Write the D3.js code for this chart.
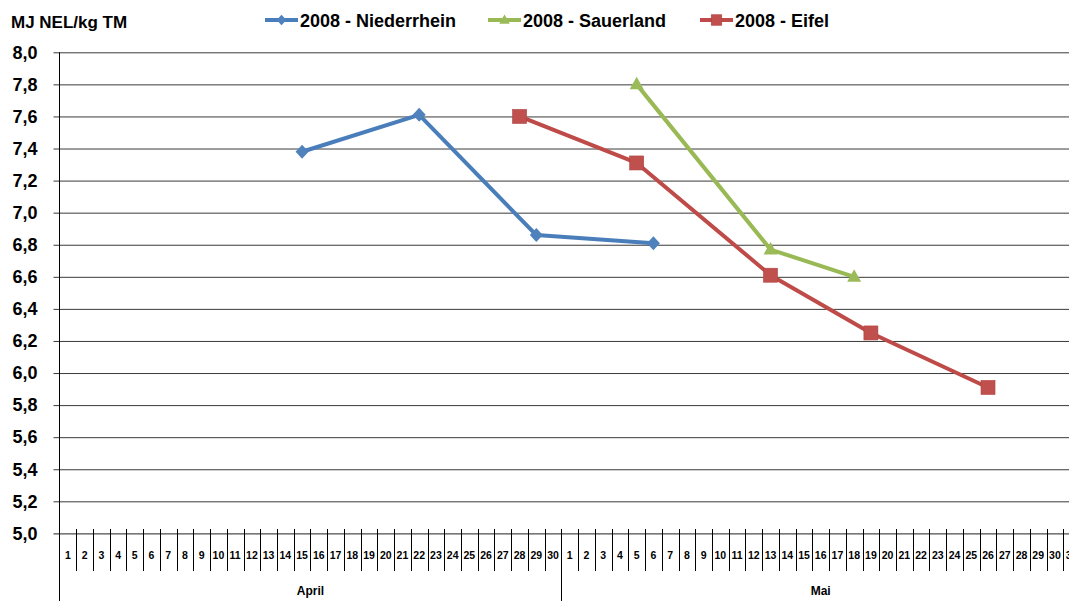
<!DOCTYPE html>
<html><head><meta charset="utf-8">
<script src="https://cdn.jsdelivr.net/npm/d3@7"></script>
<style>
html,body{margin:0;padding:0;background:#fff;overflow:hidden}
text{font-family:"Liberation Sans",Arial,sans-serif;font-weight:bold;fill:#000}
</style></head><body>
<svg id="c" width="1069" height="601"></svg>
<script>
// ---- data ----
const months = ["April", "Mai"];
const monthDays = [30, 31];
const yTicks = [5.0,5.2,5.4,5.6,5.8,6.0,6.2,6.4,6.6,6.8,7.0,7.2,7.4,7.6,7.8,8.0];
const seriesNames = ["2008 - Niederrhein", "2008 - Sauerland", "2008 - Eifel"];
const niederrheinDates = ["April-15", "April-22", "April-29", "Mai-6"];
const niederrheinValues = [7.38, 7.61, 6.86, 6.81];
const sauerlandDates = ["Mai-5", "Mai-13", "Mai-18"];
const sauerlandValues = [7.80, 6.77, 6.60];
const eifelDates = ["April-28", "Mai-5", "Mai-13", "Mai-19", "Mai-26"];
const eifelValues = [7.60, 7.31, 6.61, 6.25, 5.91];

// ---- build ----
const categories = [];
months.forEach((m,i)=>{ for(let d=1; d<=monthDays[i]; d++) categories.push({key:m+"-"+d, day:d, month:m}); });
const series = [
  {name:seriesNames[0], dates:niederrheinDates, values:niederrheinValues, line:"#4A7EBB", fill:"#4F81BD", marker:"diamond"},
  {name:seriesNames[1], dates:sauerlandDates, values:sauerlandValues, line:"#98B954", fill:"#9BBB59", marker:"triangle"},
  {name:seriesNames[2], dates:eifelDates, values:eifelValues, line:"#BE4B48", fill:"#C0504D", marker:"square"}
];

const svg = d3.select("#c");
const left = 59.5, bw = 16.73;
const x = d3.scaleBand().domain(categories.map(c=>c.key)).range([left, left + bw*categories.length]).paddingInner(0).paddingOuter(0);
const y = d3.scaleLinear().domain([5,8]).range([533.4, 52.3]);
const W = 1069;

// gridlines + y axis
const gy = svg.append("g").attr("transform",`translate(${left},0)`)
  .call(d3.axisLeft(y).tickValues(yTicks).tickFormat(d=>d3.format(".1f")(d).replace(".",",")).tickSize(6).tickPadding(10));
gy.select(".domain").remove();
gy.selectAll(".tick line").attr("stroke","#222").attr("x2", W - left).attr("x1",-6).attr("stroke-width",1);
gy.selectAll(".tick line").filter(d=>d!==5).attr("stroke","#3a3a3a");
gy.selectAll(".tick text").attr("font-size","18px").attr("fill","#000").style("font-weight","bold").attr("dx","-6");

// y axis line
svg.append("line").attr("x1",left).attr("x2",left).attr("y1",y(8)).attr("y2",601).attr("stroke","#000");

// x axis category boundaries
const ax = svg.append("g");
categories.forEach((c,i)=>{
  const bx = x(c.key);
  if(i>0){
    const isMonthStart = c.day===1;
    ax.append("line").attr("x1",Math.round(bx)+0.5).attr("x2",Math.round(bx)+0.5)
      .attr("y1",529).attr("y2", isMonthStart?601:571).attr("stroke","#000");
  }
  ax.append("text").attr("x", bx + bw/2).attr("y",559).attr("text-anchor","middle")
    .attr("font-size","10.5px").text(c.day);
});
// month labels
months.forEach(m=>{
  const cs = categories.filter(c=>c.month===m);
  const x0 = x(cs[0].key), x1 = x(cs[cs.length-1].key)+bw;
  ax.append("text").attr("x",(x0+x1)/2).attr("y",595).attr("text-anchor","middle").attr("font-size","12px").text(m);
});

// markers
function drawMarker(g, type, cx, cy, fill, s){
  s = s || 1;
  if(type==="diamond"){
    g.append("path").attr("d",`M${cx},${cy-7*s}L${cx+6.5*s},${cy}L${cx},${cy+7*s}L${cx-6.5*s},${cy}Z`).attr("fill",fill);
  } else if(type==="triangle"){
    g.append("path").attr("d",`M${cx},${cy-7.5*s}L${cx+7*s},${cy+5*s}L${cx-7*s},${cy+5*s}Z`).attr("fill",fill);
  } else {
    g.append("rect").attr("x",cx-7*s).attr("y",cy-7*s).attr("width",14*s).attr("height",14*s).attr("fill",fill).attr("stroke","#B0413E").attr("stroke-width",0.6);
  }
}

const line = d3.line().x(d=>x(d.k)+bw/2).y(d=>y(d.v));
series.forEach(s=>{
  const pts = s.dates.map((k,i)=>({k, v:s.values[i]}));
  const g = svg.append("g");
  g.append("path").attr("d",line(pts)).attr("fill","none").attr("stroke",s.line).attr("stroke-width",4).attr("stroke-linejoin","round");
  pts.forEach(p=>drawMarker(g, s.marker, x(p.k)+bw/2, y(p.v), s.fill));
});

// y title
svg.append("text").attr("x",11).attr("y",28).attr("font-size","17px").text("MJ NEL/kg TM");

// legend
const legX = [265, 488, 700];
series.forEach((s,i)=>{
  const g = svg.append("g");
  g.append("line").attr("x1",legX[i]).attr("x2",legX[i]+33).attr("y1",20).attr("y2",20).attr("stroke",s.line).attr("stroke-width",4);
  drawMarker(g, s.marker, legX[i]+16.5, 20, s.fill, 0.75);
  g.append("text").attr("x",legX[i]+35).attr("y",26.5).attr("font-size","18px").text(s.name);
});
</script>
</body></html>
